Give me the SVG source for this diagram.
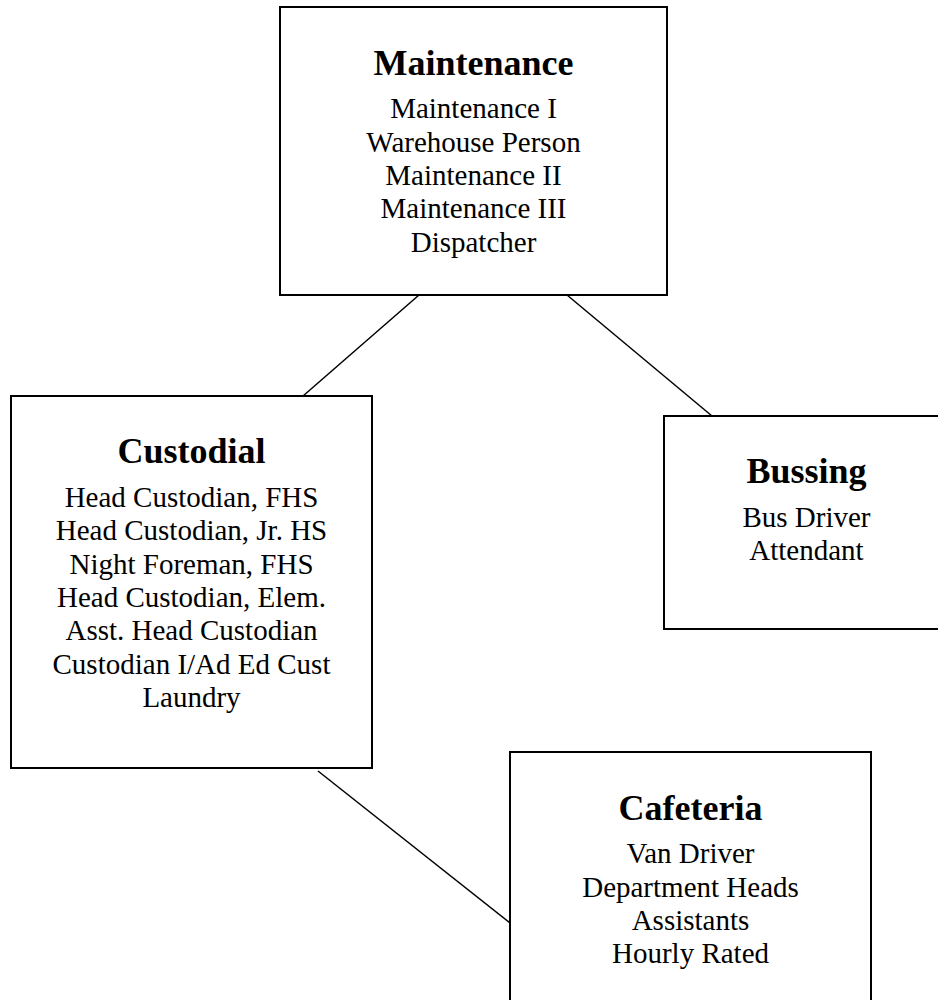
<svg xmlns="http://www.w3.org/2000/svg" width="938" height="1000" viewBox="0 0 938 1000">
<style>
.box{fill:#fff;stroke:#000;stroke-width:2}
.conn{stroke:#000;stroke-width:1.5;fill:none}
.title{font-family:"Liberation Serif","Times New Roman",serif;font-size:36px;font-weight:bold;text-anchor:middle;fill:#000}
.item{font-family:"Liberation Serif","Times New Roman",serif;font-size:29px;text-anchor:middle;fill:#000}
</style>
<rect width="938" height="1000" fill="#fff"/>
<g id="connectors">
<line class="conn" x1="419" y1="295" x2="303" y2="396"/>
<line class="conn" x1="567" y1="295" x2="712" y2="416"/>
<line class="conn" x1="318" y1="771" x2="510" y2="923"/>
</g>
<g id="maintenance">
<rect class="box" x="280" y="7" width="387" height="288"/>
<text class="title" x="473.5" y="75">Maintenance</text>
<text class="item" x="473.5" y="118">Maintenance I</text>
<text class="item" x="473.5" y="151.5">Warehouse Person</text>
<text class="item" x="473.5" y="185">Maintenance II</text>
<text class="item" x="473.5" y="218">Maintenance III</text>
<text class="item" x="473.5" y="251.5">Dispatcher</text>
</g>
<g id="custodial">
<rect class="box" x="11" y="396" width="361" height="372"/>
<text class="title" x="191.5" y="463">Custodial</text>
<text class="item" x="191.5" y="507">Head Custodian, FHS</text>
<text class="item" x="191.5" y="540">Head Custodian, Jr. HS</text>
<text class="item" x="191.5" y="573.5">Night Foreman, FHS</text>
<text class="item" x="191.5" y="607">Head Custodian, Elem.</text>
<text class="item" x="191.5" y="640">Asst. Head Custodian</text>
<text class="item" x="191.5" y="673.5">Custodian I/Ad Ed Cust</text>
<text class="item" x="191.5" y="707">Laundry</text>
</g>
<g id="bussing">
<rect class="box" x="664" y="416" width="285" height="213"/>
<text class="title" x="806.5" y="483">Bussing</text>
<text class="item" x="806.5" y="527">Bus Driver</text>
<text class="item" x="806.5" y="560">Attendant</text>
</g>
<g id="cafeteria">
<rect class="box" x="510" y="752" width="361" height="260"/>
<text class="title" x="690.5" y="820">Cafeteria</text>
<text class="item" x="690.5" y="863">Van Driver</text>
<text class="item" x="690.5" y="896.5">Department Heads</text>
<text class="item" x="690.5" y="930">Assistants</text>
<text class="item" x="690.5" y="963">Hourly Rated</text>
</g>
</svg>
